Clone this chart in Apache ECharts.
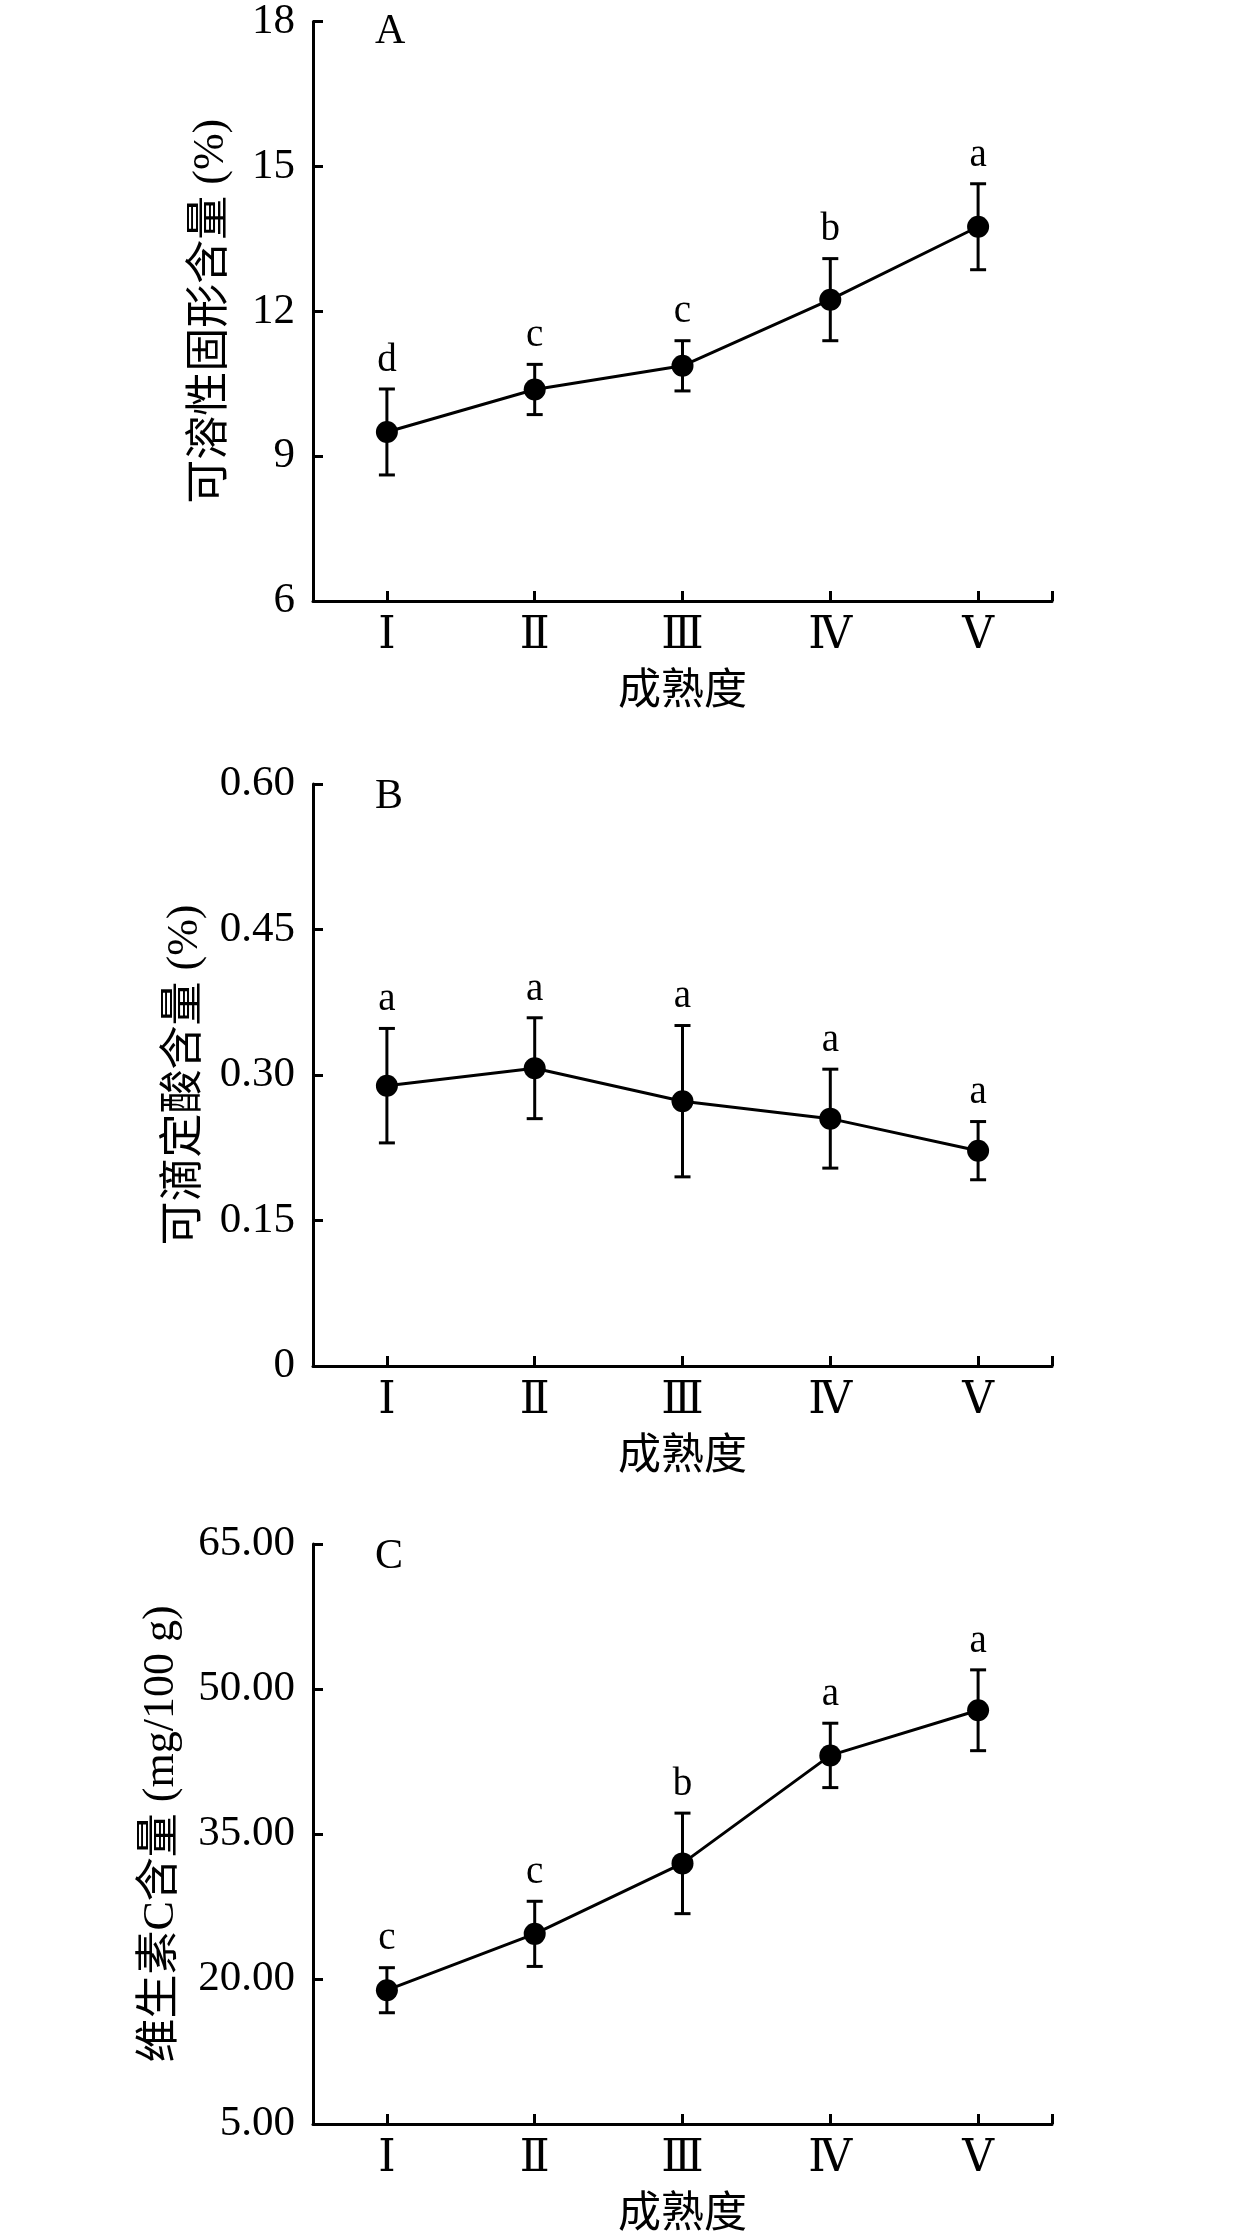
<!DOCTYPE html>
<html>
<head>
<meta charset="utf-8">
<script src="https://cdn.jsdelivr.net/npm/echarts@6/dist/echarts.min.js"></script>
<style>
  html, body { margin: 0; padding: 0; background: #fff; }
  #chart { width: 1260px; height: 2238px; }
</style>
</head>
<body>
<div id="chart"></div>
<script>
// ripeness stages on the x axis
const stages = ['Ⅰ', 'Ⅱ', 'Ⅲ', 'Ⅳ', 'Ⅴ'];

// A: soluble solids (%)
const solidsMean = [9.50, 10.38, 10.87, 12.24, 13.75];
const solidsSd = [0.89, 0.52, 0.52, 0.85, 0.89];
const solidsLetters = ['d', 'c', 'c', 'b', 'a'];
const solidsTicks = [6, 9, 12, 15, 18];

// B: titratable acid (%)
const acidMean = [0.289, 0.307, 0.273, 0.255, 0.222];
const acidSd = [0.059, 0.052, 0.078, 0.051, 0.030];
const acidLetters = ['a', 'a', 'a', 'a', 'a'];
const acidTicks = [0, 0.15, 0.30, 0.45, 0.60];

// C: vitamin C (mg/100 g)
const vcMean = [18.84, 24.67, 31.96, 43.13, 47.80];
const vcSd = [2.33, 3.37, 5.20, 3.33, 4.18];
const vcLetters = ['c', 'c', 'b', 'a', 'a'];
const vcTicks = [5, 20, 35, 50, 65];

const SERIF = "'Liberation Serif', 'DejaVu Serif', 'Noto Sans CJK SC'";
const INK = '#000';
const LW = 3;

const panels = [
  { tag: 'A', top: 19, name: '可溶性固形含量 (%)', nameGap: 80,
    mean: solidsMean, sd: solidsSd, letters: solidsLetters, ticks: solidsTicks,
    fmt: v => String(v) },
  { tag: 'B', top: 784, name: '可滴定酸含量 (%)', nameGap: 106,
    mean: acidMean, sd: acidSd, letters: acidLetters, ticks: acidTicks,
    fmt: v => (v === 0 ? '0' : v.toFixed(2)) },
  { tag: 'C', top: 1544, name: '维生素C含量 (mg/100 g)', nameGap: 130,
    mean: vcMean, sd: vcSd, letters: vcLetters, ticks: vcTicks,
    fmt: v => v.toFixed(2) }
];

function errorBars(letters) {
  return function (params, api) {
    const x = api.value(0);
    const top = api.coord([x, api.value(2)]);
    const bot = api.coord([x, api.value(1)]);
    const half = 8;
    const style = { stroke: INK, lineWidth: LW };
    return {
      type: 'group',
      children: [
        { type: 'line', shape: { x1: top[0], y1: top[1], x2: bot[0], y2: bot[1] }, style: style },
        { type: 'line', shape: { x1: top[0] - half, y1: top[1], x2: top[0] + half, y2: top[1] }, style: style },
        { type: 'line', shape: { x1: bot[0] - half, y1: bot[1], x2: bot[0] + half, y2: bot[1] }, style: style },
        { type: 'text', x: top[0], y: top[1] - 9,
          style: { text: letters[params.dataIndex], fill: INK, font: '39px ' + SERIF,
                   align: 'center', verticalAlign: 'bottom' } }
      ]
    };
  };
}

const option = {
  animation: false,
  backgroundColor: '#fff',
  title: [], grid: [], xAxis: [], yAxis: [], series: []
};

panels.forEach(function (p, i) {
  option.title.push({
    text: p.tag, left: 375, top: p.top - 8, padding: 0,
    textStyle: { fontFamily: SERIF, fontSize: 42, fontWeight: 'normal', color: INK }
  });
  option.grid.push({ left: 313, top: p.top, width: 739, height: 582 });
  option.xAxis.push({
    type: 'value', gridIndex: i, min: 0.5, max: 5.5,
    name: '成熟度', nameLocation: 'middle', nameGap: 70,
    nameTextStyle: { fontFamily: SERIF, fontSize: 43, color: INK },
    axisLine: { lineStyle: { color: INK, width: LW } },
    axisTick: { inside: true, length: 10, lineStyle: { color: INK, width: LW },
                customValues: [1, 2, 3, 4, 5, 5.5] },
    axisLabel: { customValues: [1, 2, 3, 4, 5], margin: 13, color: INK,
                 fontFamily: SERIF, fontSize: 44,
                 formatter: v => stages[Math.round(v) - 1] },
    splitLine: { show: false }
  });
  const ticks = p.ticks;
  option.yAxis.push({
    type: 'value', gridIndex: i, min: ticks[0], max: ticks[ticks.length - 1],
    name: p.name, nameLocation: 'middle', nameGap: p.nameGap, nameRotate: 90,
    nameTextStyle: { fontFamily: SERIF, fontSize: 44, color: INK },
    axisLine: { show: true, lineStyle: { color: INK, width: LW } },
    axisTick: { show: true, inside: true, length: 10, lineStyle: { color: INK, width: LW },
                customValues: ticks },
    axisLabel: { customValues: ticks, margin: 18, color: INK,
                 fontFamily: SERIF, fontSize: 43, formatter: p.fmt },
    splitLine: { show: false }
  });
  option.series.push({
    type: 'custom', xAxisIndex: i, yAxisIndex: i, z: 3,
    renderItem: errorBars(p.letters),
    data: p.mean.map((m, k) => [k + 1, m - p.sd[k], m + p.sd[k]])
  });
  option.series.push({
    type: 'line', xAxisIndex: i, yAxisIndex: i, z: 4,
    symbol: 'circle', symbolSize: 22,
    itemStyle: { color: INK },
    lineStyle: { color: INK, width: LW },
    data: p.mean.map((m, k) => [k + 1, m])
  });
});

const chart = echarts.init(document.getElementById('chart'));
chart.setOption(option);
</script>
</body>
</html>
